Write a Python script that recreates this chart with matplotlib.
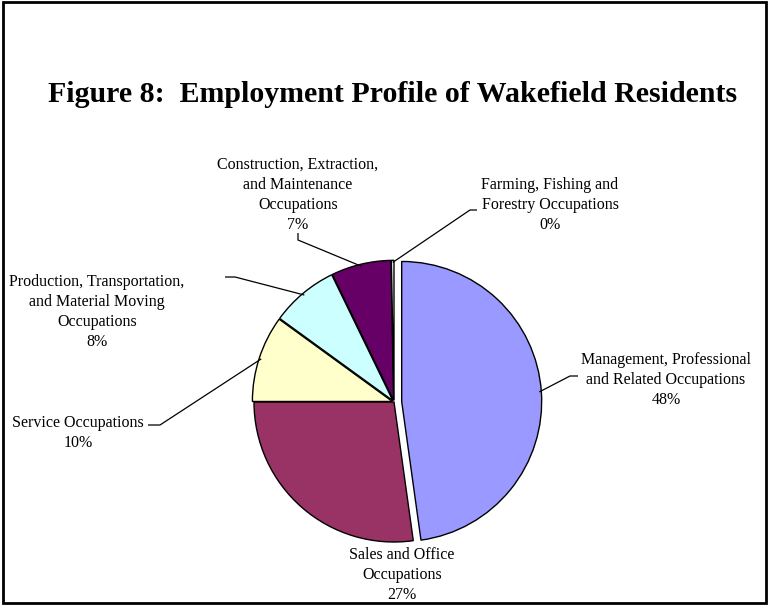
import matplotlib
matplotlib.use("Agg")
import matplotlib.pyplot as plt
import numpy as np
from matplotlib.patches import Rectangle

categories = [
    "Management, Professional\nand Related Occupations",
    "Sales and Office\nOccupations",
    "Service Occupations",
    "Production, Transportation,\nand Material Moving\nOccupations",
    "Construction, Extraction,\nand Maintenance\nOccupations",
    "Farming, Fishing and\nForestry Occupations",
]
values = [47.8, 27.2, 10.0, 7.8, 6.9, 0.3]
pct_labels = ["48%", "27%", "10%", "8%", "7%", "0%"]
colors = ["#9999FF", "#993366", "#FFFFCC", "#CCFFFF", "#660066", "#FFFFFF"]
explode_frac = [0.055, 0.0, 0.012, 0.012, 0.012, 0.012]

W, H = 769, 605
fig = plt.figure(figsize=(W / 100, H / 100), dpi=100)
ax = fig.add_axes([0, 0, 1, 1])

cx, cy, R = 394, H - 402, 140
wedges, _ = ax.pie(values, colors=colors, startangle=90, counterclock=False,
                   explode=[e * R for e in explode_frac], center=(cx, cy), radius=R,
                   wedgeprops=dict(edgecolor="black", linewidth=1.0),
                   frame=True)
ax.set_xlim(0, W)
ax.set_ylim(0, H)
ax.set_aspect("equal")
ax.axis("off")

font = "Liberation Serif"
fs = 11.5

# text center (x, middle y in pixels from top), leader start and knee
label_specs = [
    dict(tx=666, ty=380, start=(578, 376), knee=(570, 376)),
    dict(tx=402, ty=575, start=None, knee=None),
    dict(tx=78, ty=433, start=(148, 425), knee=(160, 425)),
    dict(tx=97, ty=312, start=(225, 277), knee=(235, 277)),
    dict(tx=298, ty=195, start=(298, 233), knee=(298, 240)),
    dict(tx=550, ty=205, start=(477, 210), knee=(470, 210)),
]

for w, cat, pct, spec in zip(wedges, categories, pct_labels, label_specs):
    ax.text(spec["tx"], H - spec["ty"], cat + "\n" + pct, ha="center", va="center",
            fontsize=fs, family=font, linespacing=1.36, color="black")
    if spec["start"] is None:
        continue
    mid = np.deg2rad((w.theta1 + w.theta2) / 2)
    ccx, ccy = w.center
    ex_pt = (ccx + w.r * 0.985 * np.cos(mid), ccy + w.r * 0.985 * np.sin(mid))
    xs = [spec["start"][0], spec["knee"][0], ex_pt[0]]
    ys = [H - spec["start"][1], H - spec["knee"][1], ex_pt[1]]
    ax.plot(xs, ys, color="black", linewidth=0.9, solid_capstyle="butt")

ax.text(W / 2 + 8, H - 94, "Figure 8:  Employment Profile of Wakefield Residents",
        ha="center", va="center", fontsize=21.5, fontweight="bold", family=font)

fig.patches.append(Rectangle((0.004, 0.004), 0.992, 0.992, transform=fig.transFigure,
                             fill=False, edgecolor="black", linewidth=2.0))

fig.savefig("out.png", dpi=100, facecolor="white")
